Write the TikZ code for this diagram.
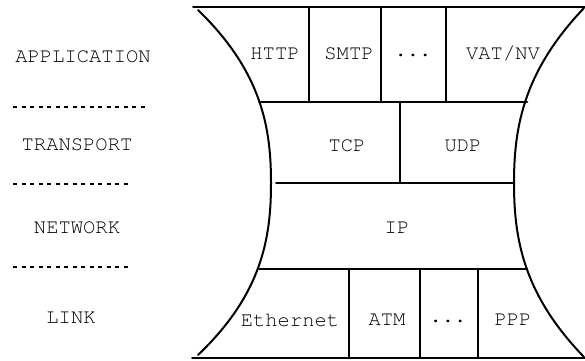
\documentclass[tikz,border=0pt]{standalone}
\usepackage[T1]{fontenc}
\usepackage{courier}
\begin{document}
\begin{tikzpicture}[x=1pt,y=-1pt,
  edge/.style={line width=2pt, line cap=round},
  dotline/.style={line width=1.6pt, dash pattern=on 4pt off 4.5pt},
  lbl/.style={inner sep=0pt, font=\ttfamily\fontsize{20.5}{24}\selectfont}]
\useasboundingbox (0,0) rectangle (585,360);
% frame
\draw[edge] (193,7) -- (585,7);
\draw[edge] (192,358) -- (585,358);
\draw[edge] (198,10) .. controls (262,72) and (271,128) .. (271,183)
  .. controls (271,238) and (262,294) .. (198,355);
\draw[edge] (584,8) .. controls (523,72) and (514,128) .. (514,183)
  .. controls (514,238) and (523,294) .. (584,357);
% horizontal dividers
\draw[edge] (259,102) -- (527,102);
\draw[edge] (276,183) -- (514,183);
\draw[edge] (259,269) -- (527,269);
% application verticals
\draw[edge] (309,7) -- (309,102);
\draw[edge] (381,7) -- (381,102);
\draw[edge] (446,7) -- (446,102);
% transport vertical
\draw[edge] (400,102) -- (400,183);
% link verticals
\draw[edge] (349,269) -- (349,358);
\draw[edge] (420,269) -- (420,358);
\draw[edge] (478,269) -- (478,358);
% protocol labels
\node[lbl] (http) at (275,54) {HTTP};
\node[lbl] (smtp) at (349,54) {SMTP};
\node[lbl] (adots) at (413,56) {...};
\node[lbl] (vat) at (503,54) {VAT/NV};
\node[lbl] (tcp) at (347,146) {TCP};
\node[lbl] (udp) at (463,146) {UDP};
\node[lbl] (ip) at (397,228) {IP};
\node[lbl] (eth) at (290,320) {Ethernet};
\node[lbl] (atm) at (387,320) {ATM};
\node[lbl] (ldots) at (448,322) {...};
\node[lbl] (ppp) at (513,320) {PPP};
% layer labels
\node[lbl] (app) at (83,57) {APPLICATION};
\node[lbl] (trans) at (77,145) {TRANSPORT};
\node[lbl] (net) at (77,228) {NETWORK};
\node[lbl] (link) at (71,318) {LINK};
\draw[dotline] (13,107) -- (147,107);
\draw[dotline] (13,184) -- (130,184);
\draw[dotline] (13,267) -- (130,267);
\end{tikzpicture}
\end{document}
